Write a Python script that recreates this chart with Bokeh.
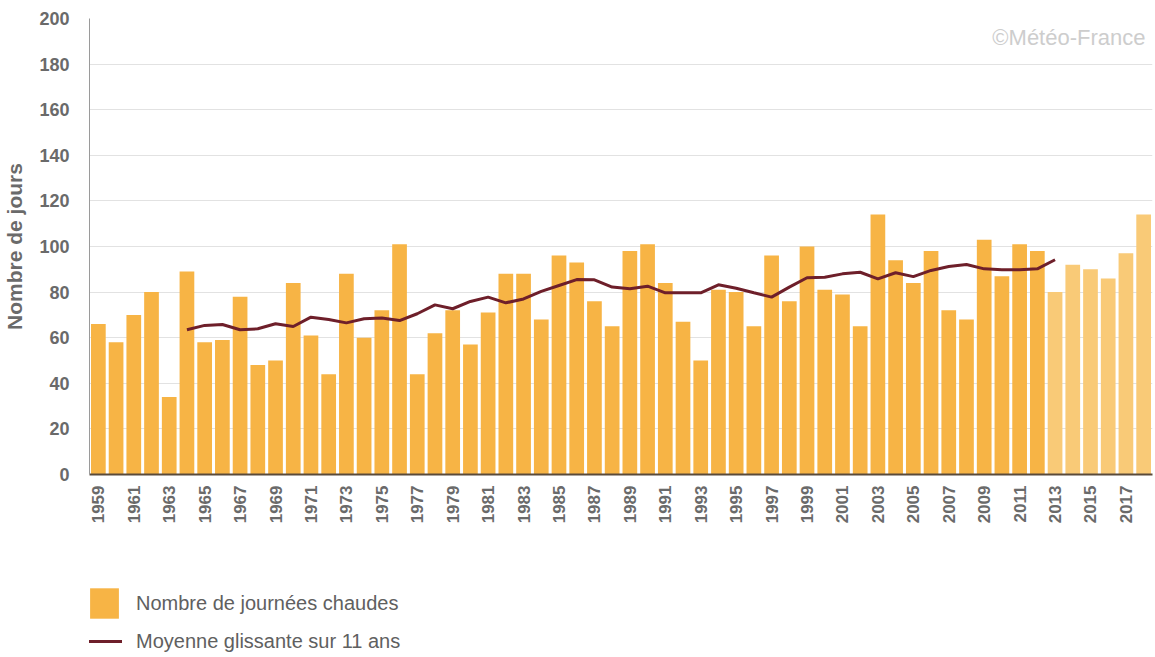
import math
from bokeh.plotting import figure
from bokeh.layouts import column
from bokeh.models import (FixedTicker, Legend, LegendItem, Label, ColumnDataSource,
                          Range1d)
from bokeh.embed import file_html
from bokeh.resources import INLINE

years = list(range(1959, 2019))
hot_days = [66, 58, 70, 80, 34, 89, 58, 59, 78, 48,
            50, 84, 61, 44, 88, 60, 72, 101, 44, 62,
            72, 57, 71, 88, 88, 68, 96, 93, 76, 65,
            98, 101, 84, 67, 50, 81, 80, 65, 96, 76,
            100, 81, 79, 65, 114, 94, 84, 98, 72, 68,
            103, 87, 101, 98, 80, 92, 90, 86, 97, 114]
avg_years = list(range(1964, 2014))
moving_avg = [63.5, 65.4, 65.8, 63.5, 63.9, 66.1, 64.9, 69.0, 68.0, 66.5,
              68.3, 68.6, 67.5, 70.5, 74.4, 72.7, 75.9, 77.8, 75.3, 77.0,
              80.3, 82.9, 85.5, 85.4, 82.2, 81.5, 82.6, 79.7, 79.7, 79.7,
              83.2, 81.7, 79.7, 77.8, 82.2, 86.3, 86.5, 88.0, 88.7, 85.8,
              88.5, 86.8, 89.5, 91.2, 92.1, 90.2, 89.8, 89.8, 90.2, 94.2]
tick_years = list(range(1959, 2018, 2))
y_ticks = list(range(0, 201, 20))

BAR = "#F7B445"
BAR_LIGHT = "#F9CA77"
LINE = "#6E1F2A"
TXT = "#6a6a6a"
FONT = "Liberation Sans"

W = 1154
H_MAIN = 540
H_LEG = 116

split = years.index(2013)
src_main = ColumnDataSource(dict(x=years[:split], top=hot_days[:split]))
src_light = ColumnDataSource(dict(x=years[split:], top=hot_days[split:]))
src_avg = ColumnDataSource(dict(x=avg_years, y=moving_avg))

p = figure(width=W, height=H_MAIN, x_range=Range1d(1958.5, 2018.5),
           y_range=Range1d(0, 200), output_backend="svg", toolbar_location=None,
           min_border_left=88, min_border_right=2, min_border_top=18,
           min_border_bottom=H_MAIN - 474)
p.outline_line_color = None
p.background_fill_color = "white"
p.border_fill_color = "white"

p.vbar(x="x", top="top", width=0.83, bottom=0, source=src_main,
       fill_color=BAR, line_color=None)
p.vbar(x="x", top="top", width=0.83, bottom=0, source=src_light,
       fill_color=BAR_LIGHT, line_color=None)
p.line(x="x", y="y", source=src_avg, line_color=LINE, line_width=3)

p.xgrid.grid_line_color = None
p.ygrid.grid_line_color = "#e2e2e2"
p.ygrid.ticker = FixedTicker(ticks=y_ticks)

ya = p.yaxis[0]
ya.ticker = FixedTicker(ticks=y_ticks)
ya.axis_line_color = "#9a9a9a"
ya.axis_line_width = 1
ya.major_tick_line_color = None
ya.minor_tick_line_color = None
ya.major_label_text_font = FONT
ya.major_label_text_font_style = "bold"
ya.major_label_text_font_size = "18px"
ya.major_label_text_color = TXT
ya.major_label_standoff = 14
ya.axis_label = "Nombre de jours"
ya.axis_label_text_font = FONT
ya.axis_label_text_font_style = "bold"
ya.axis_label_text_font_size = "21px"
ya.axis_label_text_color = TXT
ya.axis_label_standoff = 10

xa = p.xaxis[0]
xa.ticker = FixedTicker(ticks=tick_years)
xa.axis_line_color = "#5a4a3a"
xa.axis_line_width = 2
xa.major_tick_line_color = None
xa.minor_tick_line_color = None
xa.major_label_orientation = math.pi / 2
xa.major_label_text_font = FONT
xa.major_label_text_font_style = "bold"
xa.major_label_text_font_size = "17px"
xa.major_label_text_color = TXT
xa.major_label_standoff = 5

p.add_layout(Label(x=W - 88 - 2 - 8, y=437, x_units="screen",
                   y_units="screen", text="©Météo-France", text_align="right",
                   text_baseline="middle",
                   text_font=FONT, text_font_size="22px", text_color="#cdcdcd"))

# legend panel below the chart: same series, kept out of view, only for the legend glyphs
q = figure(width=W, height=H_LEG, x_range=Range1d(5000, 5001),
           y_range=Range1d(1000, 1010),
           output_backend="svg", toolbar_location=None,
           x_axis_type=None, y_axis_type=None,
           min_border_left=0, min_border_right=0, min_border_top=0,
           min_border_bottom=0)
q.outline_line_color = None
q.grid.grid_line_color = None
q.background_fill_color = "white"
lr_bar = q.vbar(x="x", top="top", width=0.83, bottom=0, source=src_main,
                fill_color=BAR, line_color=None)
lr_line = q.line(x="x", y="y", source=src_avg, line_color=LINE, line_width=3)

legend = Legend(items=[LegendItem(label="Nombre de journées chaudes", renderers=[lr_bar]),
                       LegendItem(label="Moyenne glissante sur 11 ans", renderers=[lr_line])],
                location=(-3, -4), orientation="vertical",
                glyph_width=36, glyph_height=38, spacing=0, padding=0, margin=0,
                label_standoff=14, label_text_font=FONT, label_text_font_size="20px",
                label_text_color="#606060", border_line_color=None,
                background_fill_alpha=0)
q.add_layout(legend)

layout = column(p, q, spacing=0)
open("out.html", "w").write(file_html(layout, INLINE))
